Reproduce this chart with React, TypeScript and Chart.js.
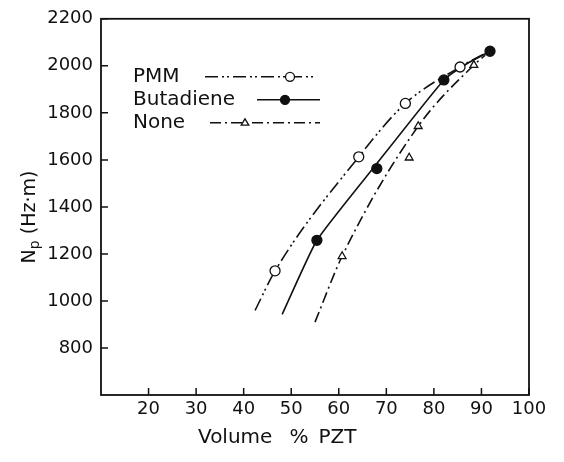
import React, { useEffect, useRef } from "react";
import { Chart, registerables } from "chart.js";

Chart.register(...registerables);

// ---- data ----
const xTickValues = [20, 30, 40, 50, 60, 70, 80, 90, 100];
const yTickValues = [800, 1000, 1200, 1400, 1600, 1800, 2000, 2200];

const seriesNames = ["PMM", "Butadiene", "None"];

// measured points (markers)
const pmmX = [46.6, 64.2, 74.0, 85.5];
const pmmY = [1128, 1613, 1840, 1995];
const butX = [55.4, 68.0, 82.1, 91.8];
const butY = [1258, 1563, 1940, 2062];
const noneX = [60.7, 74.8, 76.7, 88.4];
const noneY = [1190, 1609, 1743, 2003];

// fitted curves
const pmmCurveX = [42.4, 46.6, 64.2, 74.0, 85.5, 90.5];
const pmmCurveY = [960, 1128, 1613, 1840, 1995, 2050];
const butCurveX = [48.1, 55.4, 67.6, 82.1, 87.0, 91.8];
const butCurveY = [943, 1258, 1574, 1940, 2010, 2062];
const noneCurveX = [55.0, 60.7, 76.7, 88.4, 90.8];
const noneCurveY = [910, 1190, 1743, 2003, 2045];

const INK = "#111111";
const FONT = '"DejaVu Sans", sans-serif';
const PMM_DASH = [13, 4, 2, 3, 2, 4];
const NONE_DASH = [11, 4, 2, 4];

function toPts(xs: number[], ys: number[]) {
  return xs.map((x, i) => ({ x, y: ys[i] }));
}

function drawMarker(ctx: CanvasRenderingContext2D, kind: string, x: number, y: number, r: number) {
  ctx.save();
  ctx.setLineDash([]);
  ctx.lineWidth = 1.3;
  ctx.strokeStyle = INK;
  ctx.beginPath();
  if (kind === "triangle") {
    ctx.moveTo(x, y - r);
    ctx.lineTo(x + r * 0.95, y + r * 0.6);
    ctx.lineTo(x - r * 0.95, y + r * 0.6);
    ctx.closePath();
    ctx.fillStyle = "#fff";
  } else {
    ctx.arc(x, y, r, 0, Math.PI * 2);
    ctx.fillStyle = kind === "filled" ? INK : "#fff";
  }
  ctx.fill();
  ctx.stroke();
  ctx.restore();
}

const decorPlugin = {
  id: "decor",
  afterDraw(chart: any) {
    const { ctx, chartArea: a, scales } = chart;
    const xs = scales.x;
    const ys = scales.y;
    ctx.save();
    // frame
    ctx.strokeStyle = INK;
    ctx.lineWidth = 1.8;
    ctx.strokeRect(a.left, a.top, a.right - a.left, a.bottom - a.top);
    // inward ticks
    ctx.lineWidth = 1.5;
    ctx.beginPath();
    xTickValues.forEach((v) => {
      const px = xs.getPixelForValue(v);
      ctx.moveTo(px, a.bottom);
      ctx.lineTo(px, a.bottom - 7);
    });
    yTickValues.forEach((v) => {
      const py = ys.getPixelForValue(v);
      ctx.moveTo(a.left, py);
      ctx.lineTo(a.left + 7, py);
    });
    ctx.stroke();

    // legend
    ctx.fillStyle = INK;
    ctx.font = "20px " + FONT;
    ctx.textBaseline = "middle";
    ctx.textAlign = "left";
    const tx = a.left + 32;
    const rows = [a.top + 58, a.top + 81, a.top + 104];
    const samples = [
      { x0: a.left + 104, x1: a.left + 214, mx: a.left + 189, dash: PMM_DASH, kind: "open" },
      { x0: a.left + 156, x1: a.left + 219, mx: a.left + 184, dash: [] as number[], kind: "filled" },
      { x0: a.left + 109, x1: a.left + 219, mx: a.left + 144, dash: NONE_DASH, kind: "triangle" },
    ];
    seriesNames.forEach((name, i) => {
      const y = rows[i];
      ctx.fillText(name, tx, y);
      const s = samples[i];
      ctx.save();
      ctx.strokeStyle = INK;
      ctx.lineWidth = 1.5;
      ctx.setLineDash(s.dash);
      ctx.beginPath();
      ctx.moveTo(s.x0, y);
      ctx.lineTo(s.x1, y);
      ctx.stroke();
      ctx.restore();
      drawMarker(ctx, s.kind, s.mx, y, s.kind === "triangle" ? 4 : 4.5);
    });

    // x axis title
    ctx.font = "20px " + FONT;
    ctx.textBaseline = "middle";
    const parts = ["Volume", "%", "PZT"];
    const gaps = [17, 10];
    let cx = a.left + 97;
    parts.forEach((p, i) => {
      ctx.fillText(p, cx, 438);
      cx += ctx.measureText(p).width + (gaps[i] || 0);
    });

    // y axis title with subscript
    ctx.save();
    ctx.translate(30, 217);
    ctx.rotate(-Math.PI / 2);
    const bigFont = "19px " + FONT;
    const subFont = "14px " + FONT;
    ctx.font = bigFont;
    const wN = ctx.measureText("N").width;
    const rest = " (Hz\u00b7m)";
    const wRest = ctx.measureText(rest).width;
    ctx.font = subFont;
    const wP = ctx.measureText("p").width;
    const total = wN + wP + wRest;
    let px = -total / 2;
    ctx.textBaseline = "middle";
    ctx.font = bigFont;
    ctx.fillText("N", px, 0);
    px += wN;
    ctx.font = subFont;
    ctx.fillText("p", px, 5);
    px += wP;
    ctx.font = bigFont;
    ctx.fillText(rest, px, 0);
    ctx.restore();

    ctx.restore();
  },
};

export default function App() {
  const ref = useRef<HTMLCanvasElement | null>(null);

  useEffect(() => {
    if (!ref.current) return;
    const curveBase = {
      showLine: true,
      pointRadius: 0,
      borderColor: INK,
      borderWidth: 1.6,
      cubicInterpolationMode: "monotone" as const,
      fill: false,
      order: 2,
    };
    const markerBase = {
      showLine: false,
      borderColor: INK,
      borderWidth: 1.3,
      pointRadius: 5,
      order: 1,
    };
    const chart = new Chart(ref.current, {
      type: "scatter",
      data: {
        datasets: [
          { ...curveBase, label: "PMM curve", data: toPts(pmmCurveX, pmmCurveY), borderDash: PMM_DASH },
          {
            ...curveBase,
            label: "Butadiene curve",
            data: toPts(butCurveX, butCurveY),
            cubicInterpolationMode: "default" as const,
            tension: 0.15,
          },
          { ...curveBase, label: "None curve", data: toPts(noneCurveX, noneCurveY), borderDash: NONE_DASH },
          { ...markerBase, label: "PMM", data: toPts(pmmX, pmmY), pointStyle: "circle", backgroundColor: "#fff" },
          { ...markerBase, label: "Butadiene", data: toPts(butX, butY), pointStyle: "circle", backgroundColor: INK },
          { ...markerBase, label: "None", data: toPts(noneX, noneY), pointStyle: "triangle", backgroundColor: "#fff", pointRadius: 4.5 },
        ],
      },
      options: {
        animation: false,
        responsive: true,
        maintainAspectRatio: false,
        layout: { padding: { top: 13, right: 35, left: 0, bottom: 0 } },
        plugins: {
          legend: { display: false },
          tooltip: { enabled: false },
        },
        scales: {
          x: {
            type: "linear",
            min: 10,
            max: 100,
            afterBuildTicks: (s: any) => {
              s.ticks = xTickValues.map((v) => ({ value: v }));
            },
            afterFit: (s: any) => {
              s.height = 67;
            },
            grid: { display: false, drawTicks: false },
            border: { display: false },
            ticks: {
              color: INK,
              font: { family: FONT, size: 18 },
              padding: 4,
              maxRotation: 0,
              autoSkip: false,
              callback: (v: any) => String(v),
            },
          },
          y: {
            type: "linear",
            min: 600,
            max: 2200,
            afterBuildTicks: (s: any) => {
              s.ticks = yTickValues.map((v) => ({ value: v }));
            },
            afterFit: (s: any) => {
              s.width = 101;
            },
            grid: { display: false, drawTicks: false },
            border: { display: false },
            ticks: {
              color: INK,
              font: { family: FONT, size: 18 },
              padding: 8,
              autoSkip: false,
              callback: (v: any) => String(v),
            },
          },
        },
      },
      plugins: [decorPlugin],
    });
    return () => chart.destroy();
  }, []);

  return (
    <div style={{ position: "fixed", left: 0, top: 0, width: 564, height: 462, background: "#fff" }}>
      <canvas ref={ref} />
    </div>
  );
}
